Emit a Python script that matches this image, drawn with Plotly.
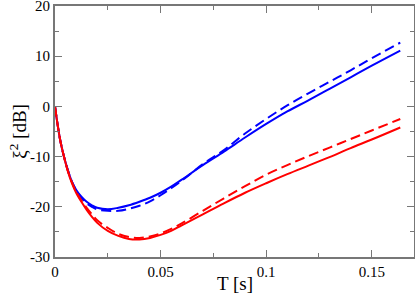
import plotly.graph_objects as go

T = [0, 0.001, 0.0025, 0.004, 0.006, 0.008, 0.01, 0.0125, 0.015, 0.0175, 0.02,
     0.025, 0.03, 0.035, 0.04, 0.045, 0.05, 0.055, 0.06, 0.07, 0.08, 0.09, 0.1,
     0.11, 0.12, 0.13, 0.14, 0.15, 0.1635]

blue_solid = [0, -3.0, -6.8, -9.6, -12.6, -15.0, -16.6, -18.0, -19.0, -19.7, -20.2,
              -20.5, -20.2, -19.7, -19.0, -18.2, -17.2, -16.0, -14.6, -11.7, -9.0, -6.2, -3.5,
              -1.0, 1.2, 3.5, 5.8, 8.1, 11.1]
blue_dashed = [0, -3.0, -6.8, -9.6, -12.6, -15.0, -16.7, -18.2, -19.3, -20.0, -20.5,
               -20.8, -20.8, -20.4, -19.8, -18.9, -17.7, -16.3, -14.8, -11.5, -8.7, -5.4, -2.5,
               0.2, 2.6, 4.9, 7.2, 9.6, 12.7]
red_solid = [0, -3.0, -6.8, -9.6, -12.8, -15.3, -17.2, -19.0, -20.6, -22.0, -23.2,
             -24.8, -25.8, -26.4, -26.5, -26.2, -25.6, -24.8, -23.7, -21.5, -19.3, -17.2, -15.3,
             -13.5, -11.8, -10.1, -8.3, -6.6, -4.2]
red_dashed = [0, -3.0, -6.8, -9.6, -12.7, -15.1, -17.0, -18.7, -20.2, -21.5, -22.7,
              -24.2, -25.4, -26.0, -26.2, -25.9, -25.3, -24.4, -23.3, -20.8, -18.3, -15.9, -13.6,
              -11.7, -9.9, -8.2, -6.5, -4.8, -2.5]

x_tickvals = [0, 0.05, 0.1, 0.15]
x_ticktext = ["0", "0.05", "0.1", "0.15"]
y_tickvals = [-30, -20, -10, 0, 10, 20]
y_ticktext = ["-30", "-20", "-10", "0", "10", "20"]

fig = go.Figure()
series = [
    (blue_solid, "#0000ff", "solid"),
    (blue_dashed, "#0000ff", "10px,5px"),
    (red_solid, "#ff0000", "solid"),
    (red_dashed, "#ff0000", "10px,5px"),
]
for ys, col, dash in series:
    fig.add_trace(go.Scatter(x=T, y=ys, mode="lines", line=dict(color=col, width=2, dash=dash),
                             line_shape="spline", showlegend=False))

font = "Liberation Serif, Times New Roman, serif"
axis_common = dict(showline=True, mirror="allticks", linecolor="#777777", linewidth=2,
                   ticks="inside", ticklen=7, tickwidth=1, tickcolor="#777777",
                   showgrid=False, zeroline=False, automargin=False,
                   ticklabeloverflow="allow",
                   tickfont=dict(family=font, size=15, color="black"))
fig.update_layout(
    width=415, height=295,
    margin=dict(l=55, r=1, t=6, b=38),
    plot_bgcolor="white", paper_bgcolor="white",
    xaxis=dict(range=[0, 0.17], tickvals=x_tickvals, ticktext=x_ticktext,
               minor=dict(dtick=0.025, tick0=0, ticks="inside", ticklen=4, tickcolor="#777777"),
               **axis_common),
    yaxis=dict(range=[-30, 20], tickvals=y_tickvals, ticktext=y_ticktext,
               minor=dict(dtick=5, tick0=0, ticks="inside", ticklen=4, tickcolor="#777777"),
               **axis_common),
    annotations=[
        dict(text="T [s]", xref="paper", yref="paper", x=0.5, y=-0.106, xanchor="center",
             yanchor="middle", showarrow=False, font=dict(family=font, size=19, color="black")),
        dict(text="ξ<sup>2</sup> [dB]", xref="paper", yref="paper", x=-0.105, y=0.5,
             xanchor="center", yanchor="middle", textangle=-90, showarrow=False,
             font=dict(family=font, size=19, color="black")),
    ],
)
fig.write_html("out.html", config={"displayModeBar": False},
               post_script="document.body.style.margin='0';document.body.style.padding='0';")
